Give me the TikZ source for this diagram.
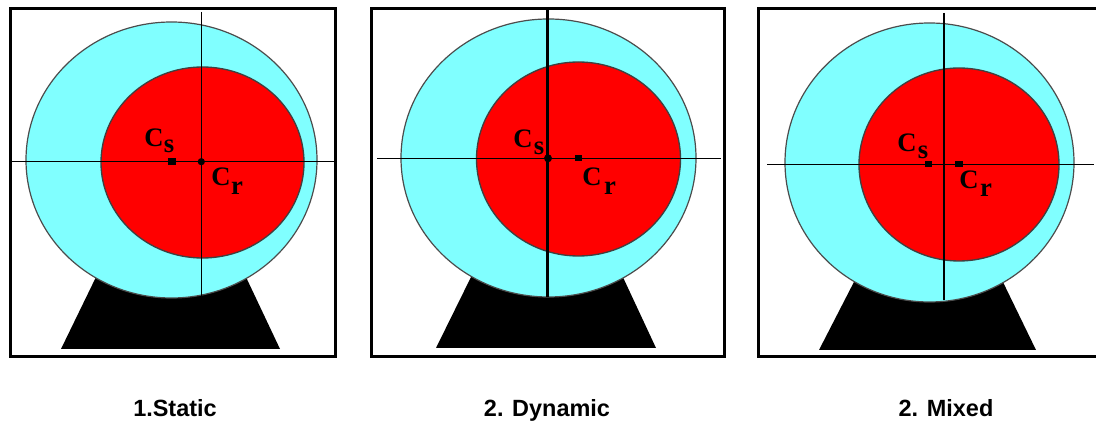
\documentclass[tikz,border=0pt]{standalone}
\usepackage{fontspec}
\setmainfont{Liberation Serif}
\newfontfamily\capfont{Liberation Sans}
\definecolor{aquafill}{RGB}{128,255,255}
\definecolor{redfill}{RGB}{255,0,0}
\tikzset{
  framebox/.style={draw=black,line width=2.25pt,fill=white,rectangle,anchor=north west,inner sep=0pt,outer sep=0pt},
  stator/.style={draw=black!70,line width=0.9pt,fill=aquafill},
  rotor/.style={draw=black!75,line width=1pt,fill=redfill},
  axisline/.style={draw=black,line width=1.1pt},
  sqdot/.style={fill=black,minimum width=5.4pt,minimum height=4.8pt,inner sep=0pt,draw=none,rectangle},
  rounddot/.style={fill=black,minimum size=5.4pt,inner sep=0pt,draw=none,circle},
  bigc/.style={font=\fontsize{20}{20}\selectfont\bfseries,text=black,inner sep=0pt},
  subc/.style={font=\fontsize{20}{20}\selectfont\bfseries,text=black,inner sep=0pt},
  caption/.style={font=\capfont\bfseries\fontsize{17.6}{20}\selectfont,inner sep=0pt,text=black,anchor=base},
  pedestal/.style={fill=black,draw=none}
}
\begin{document}
\begin{tikzpicture}[x=0.75pt,y=-0.75pt]
\useasboundingbox (0,0) rectangle (1096,423);
\fill[white] (0,0) rectangle (1096,423);
% Panel 1
\node[framebox,minimum width=243.75pt,minimum height=261pt] (f1) at (10.5,8.5) {};
\fill[pedestal] (97,275) -- (61,349) -- (280,349) -- (245,275) -- cycle;
\draw[stator] (171.5,160) ellipse [x radius=145.5,y radius=138];
\draw[rotor] (202.5,162.5) ellipse [x radius=101.5,y radius=95.5];
\coordinate (h1a) at (12,161.7); \coordinate (h1b) at (334,161.7);
\coordinate (v1a) at (201.3,12); \coordinate (v1b) at (201.3,296);
\draw[axisline] (h1a) -- (h1b);
\draw[axisline] (v1a) -- (v1b);
\node[sqdot] (cs1) at (172,161.7) {};
\node[rounddot] (cr1) at (201.3,161.7) {};
\node[bigc] (cslab1) at (154,138) {C};
\node[subc] (cssub1) at (169,146.5) {s};
\node[bigc] (crlab1) at (221,177) {C};
\node[subc] (crsub1) at (237,188) {r};
% Panel 2
\node[framebox,minimum width=264.75pt,minimum height=261pt] (f2) at (371.5,8.5) {};
\fill[pedestal] (473,273) -- (436,348) -- (656,348) -- (621,273) -- cycle;
\draw[stator] (548.5,158) ellipse [x radius=147.5,y radius=139];
\draw[rotor] (578.5,159) ellipse [x radius=102,y radius=97];
\coordinate (h2a) at (377,158.3); \coordinate (h2b) at (721,158.3);
\coordinate (v2a) at (547.7,8); \coordinate (v2b) at (547.7,297);
\draw[axisline] (h2a) -- (h2b);
\draw[axisline,line width=1.9pt] (v2a) -- (v2b);
\node[rounddot,minimum size=6pt] (cs2) at (548,158.3) {};
\node[sqdot] (cr2) at (578.5,158.3) {};
\node[bigc] (cslab2) at (523,139) {C};
\node[subc] (cssub2) at (539,148) {s};
\node[bigc] (crlab2) at (592,177) {C};
\node[subc] (crsub2) at (610,188) {r};
% Panel 3
\node[framebox,minimum width=255pt,minimum height=261pt] (f3) at (758.5,8.5) {};
\fill[pedestal] (856,278) -- (819,350) -- (1036,350) -- (1001,278) -- cycle;
\draw[stator] (929.5,162.5) ellipse [x radius=144.5,y radius=139.5];
\draw[rotor] (959,164.5) ellipse [x radius=100,y radius=96.5];
\coordinate (h3a) at (767,164.3); \coordinate (h3b) at (1094,164.3);
\coordinate (v3a) at (944,13); \coordinate (v3b) at (944,300);
\draw[axisline] (h3a) -- (h3b);
\draw[axisline] (v3a) -- (v3b);
\node[sqdot] (cs3) at (928.7,164) {};
\node[sqdot] (cr3) at (959,164) {};
\node[bigc] (cslab3) at (907,143) {C};
\node[subc] (cssub3) at (923,152) {s};
\node[bigc] (crlab3) at (969,180) {C};
\node[subc] (crsub3) at (986,190) {r};
% Captions
\node[caption] (t1) at (175,416.5) {1.Static};
\node[caption] (t2) at (547,416.5) {2. Dynamic};
\node[caption] (t3) at (946,416.5) {2. Mixed};
\end{tikzpicture}
\end{document}
